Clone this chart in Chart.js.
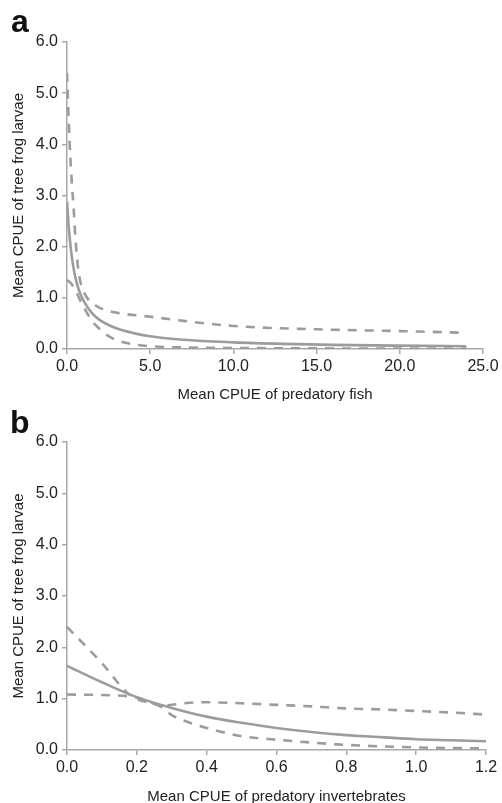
<!DOCTYPE html>
<html>
<head>
<meta charset="utf-8">
<script src="https://cdn.jsdelivr.net/npm/chart.js@4"></script>
<style>
  body { margin: 0; background: #fff; }
  .wrap { position: relative; width: 502px; height: 803px; }
  canvas { display: block; }
  .panel { position: absolute; font: bold 32px "Liberation Sans", Arial, sans-serif; line-height: 32px; color: #111; }
</style>
</head>
<body>
<div class="wrap">
  <canvas id="chartA" width="502" height="401"></canvas>
  <canvas id="chartB" width="502" height="402"></canvas>
  <div class="panel" style="left:11px; top:5px;">a</div>
  <div class="panel" style="left:10px; top:406px;">b</div>
</div>
<script>
// panel a: predatory fish
const fishX      = [0, 0.1, 0.2, 0.3, 0.5, 0.75, 1, 1.5, 2, 3, 4, 5, 7, 10, 13, 16, 20, 24];
const fishFit    = [2.88, 2.4, 2.05, 1.78, 1.4, 1.12, 0.94, 0.7, 0.56, 0.4, 0.31, 0.25, 0.18, 0.13, 0.1, 0.08, 0.065, 0.055];
const fishUpperX = [0, 0.1, 0.2, 0.3, 0.4, 0.5, 0.6, 0.7, 0.85, 1.0, 1.25, 1.5, 2, 3, 5, 7, 10, 15, 20, 23.6];
const fishUpper  = [5.4, 4.5, 3.75, 3.2, 2.75, 2.2, 1.8, 1.5, 1.25, 1.12, 0.98, 0.9, 0.8, 0.71, 0.63, 0.55, 0.45, 0.385, 0.35, 0.32];
const fishLowerX = [0, 0.25, 0.5, 0.75, 1.0, 1.25, 1.5, 2, 2.5, 3, 4, 5, 7, 10, 15, 20, 24];
const fishLower  = [1.35, 1.28, 1.15, 0.98, 0.82, 0.68, 0.55, 0.38, 0.25, 0.17, 0.09, 0.055, 0.03, 0.02, 0.012, 0.01, 0.008];

// panel b: predatory invertebrates
const invX      = [0, 0.1, 0.2, 0.3, 0.4, 0.5, 0.6, 0.7, 0.8, 0.9, 1.0, 1.1, 1.2];
const invFit    = [1.64, 1.32, 1.03, 0.82, 0.65, 0.53, 0.43, 0.35, 0.29, 0.25, 0.21, 0.19, 0.17];
const invSteepX = [0, 0.1, 0.18, 0.27, 0.3, 0.37, 0.4, 0.5, 0.6, 0.8, 1.0, 1.2];
const invSteep  = [2.4, 1.69, 1.07, 0.84, 0.68, 0.49, 0.43, 0.27, 0.2, 0.1, 0.05, 0.03];
const invFlatX  = [0, 0.1, 0.2, 0.25, 0.27, 0.3, 0.35, 0.4, 0.5, 0.6, 0.7, 0.8, 0.9, 1.0, 1.1, 1.2];
const invFlat   = [1.08, 1.07, 1.02, 0.9, 0.86, 0.88, 0.92, 0.93, 0.91, 0.88, 0.85, 0.81, 0.79, 0.76, 0.73, 0.69];

const yTicks = [0, 1, 2, 3, 4, 5, 6];
const yTitle = 'Mean CPUE of tree frog larvae';

const lineGrey = '#9c9c9c';
const axisGrey = '#a8a8a8';
const fontFamily = '"Liberation Sans", Arial, sans-serif';

function pts(xs, ys) {
    return xs.map((x, i) => ({ x: x, y: ys[i] }));
}

function series(xs, ys, dashed) {
    return {
        data: pts(xs, ys),
        showLine: true,
        borderColor: lineGrey,
        borderWidth: 2.6,
        borderDash: dashed ? [9, 8] : [],
        pointRadius: 0,
        cubicInterpolationMode: 'monotone',
        fill: false
    };
}

function makeChart(id, datasets, xMax, xStep, xTitle, topPad, rightPad) {
    const canvas = document.getElementById(id);
    const h = canvas.height;
    return new Chart(canvas.getContext('2d'), {
        type: 'scatter',
        data: { datasets: datasets },
        options: {
            responsive: false,
            animation: false,
            layout: { padding: { top: topPad, right: rightPad, left: 0, bottom: 0 } },
            plugins: { legend: { display: false }, tooltip: { enabled: false } },
            scales: {
                x: {
                    type: 'linear',
                    min: 0,
                    max: xMax,
                    afterFit: function (scale) { scale.height = h - 349; },
                    ticks: {
                        stepSize: xStep,
                        color: '#222',
                        padding: 3,
                        maxRotation: 0,
                        font: { family: fontFamily, size: 16 },
                        callback: function (v) { return Number(v).toFixed(1); }
                    },
                    grid: { display: true, drawOnChartArea: false, drawTicks: true, tickLength: 5, color: axisGrey, lineWidth: 1.5 },
                    border: { color: axisGrey, width: 1.5 },
                    title: {
                        display: true,
                        text: xTitle,
                        color: '#222',
                        padding: { top: 0, bottom: -1 },
                        font: { family: fontFamily, size: 15, lineHeight: 1 }
                    }
                },
                y: {
                    min: 0,
                    max: 6,
                    afterFit: function (scale) { scale.width = 67; },
                    afterBuildTicks: function (scale) { scale.ticks = yTicks.map(v => ({ value: v })); },
                    ticks: {
                        color: '#222',
                        padding: 4,
                        font: { family: fontFamily, size: 16 },
                        callback: function (v) { return Number(v).toFixed(1); }
                    },
                    grid: { display: true, drawOnChartArea: false, drawTicks: true, tickLength: 5, color: axisGrey, lineWidth: 1.5 },
                    border: { color: axisGrey, width: 1.5 },
                    title: {
                        display: true,
                        text: yTitle,
                        color: '#222',
                        padding: { top: 11.5, bottom: 0 },
                        font: { family: fontFamily, size: 15, lineHeight: 1 }
                    }
                }
            }
        }
    });
}

makeChart('chartA', [
    series(fishUpperX, fishUpper, true),
    series(fishLowerX, fishLower, true),
    series(fishX, fishFit, false)
], 25, 5, 'Mean CPUE of predatory fish', 42, 19);

makeChart('chartB', [
    series(invSteepX, invSteep, true),
    series(invFlatX, invFlat, true),
    series(invX, invFit, false)
], 1.2, 0.2, 'Mean CPUE of predatory invertebrates', 41, 16);
</script>
</body>
</html>
